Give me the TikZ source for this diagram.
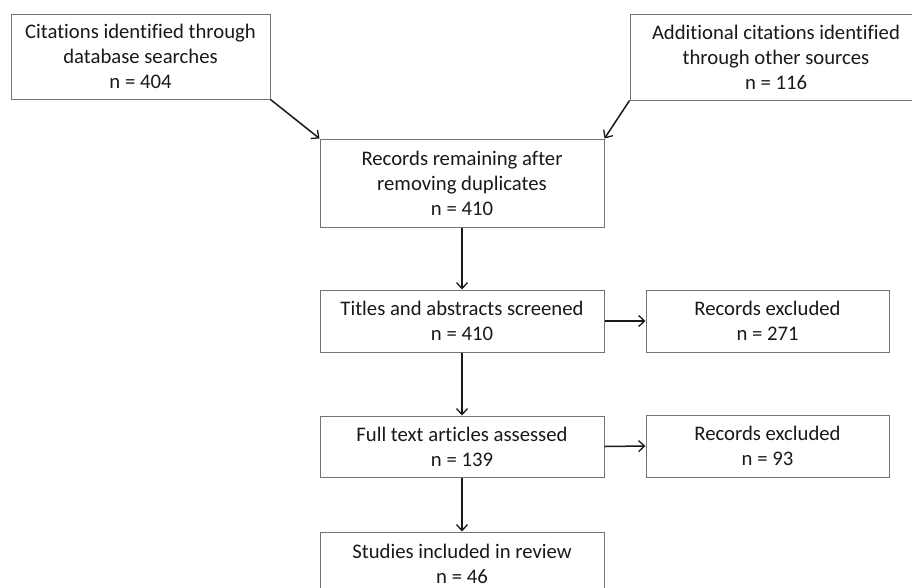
\documentclass[tikz,border=0pt]{standalone}
\usepackage{fontspec}
\setmainfont[Ligatures={NoCommon}]{Carlito}
\usetikzlibrary{arrows.meta}
\begin{document}
\begin{tikzpicture}[x=1pt,y=-1pt,
  box/.style={draw=black!55, line width=1pt, inner sep=0pt, align=center,
    font=\fontsize{20.7}{25}\selectfont, text=black!90},
  conn/.style={draw=black!90, line width=1.5pt, -{Straight Barb[length=6pt,width=11pt,line width=1.3pt]}}]
\clip (0,0) rectangle (912,587);
\fill[white] (0,0) rectangle (912,587);
\node[box, minimum width=259pt, minimum height=85pt] (a) at (140.5,56.5) {Citations identified through\\database searches\\n = 404};
\node[box, minimum width=292pt, minimum height=86pt] (b) at (776,57) {Additional citations identified\\through other sources\\n = 116};
\node[box, minimum width=284pt, minimum height=88pt] (c) at (462,183) {Records remaining after\\removing duplicates\\n = 410};
\node[box, minimum width=284pt, minimum height=62pt] (d) at (462,321) {Titles and abstracts screened\\n = 410};
\node[box, minimum width=243pt, minimum height=62pt] (e) at (767.5,321) {Records excluded\\n = 271};
\node[box, minimum width=284pt, minimum height=61pt] (f) at (462,446.5) {Full text articles assessed\\n = 139};
\node[box, minimum width=243pt, minimum height=62pt] (g) at (767.5,446) {Records excluded\\n = 93};
\node[box, minimum width=284pt, minimum height=64pt] (h) at (462,564) {Studies included in review\\n = 46};
\draw[conn] (a.south east) -- (c.north west);
\draw[conn] (b.south west) -- (c.north east);
\draw[conn] (c.south) -- (d.north);
\draw[conn] (d.east) -- (e.west);
\draw[conn] (d.south) -- (f.north);
\draw[conn] (f.east) -- (g.west);
\draw[conn] (f.south) -- (h.north);
\end{tikzpicture}
\end{document}
